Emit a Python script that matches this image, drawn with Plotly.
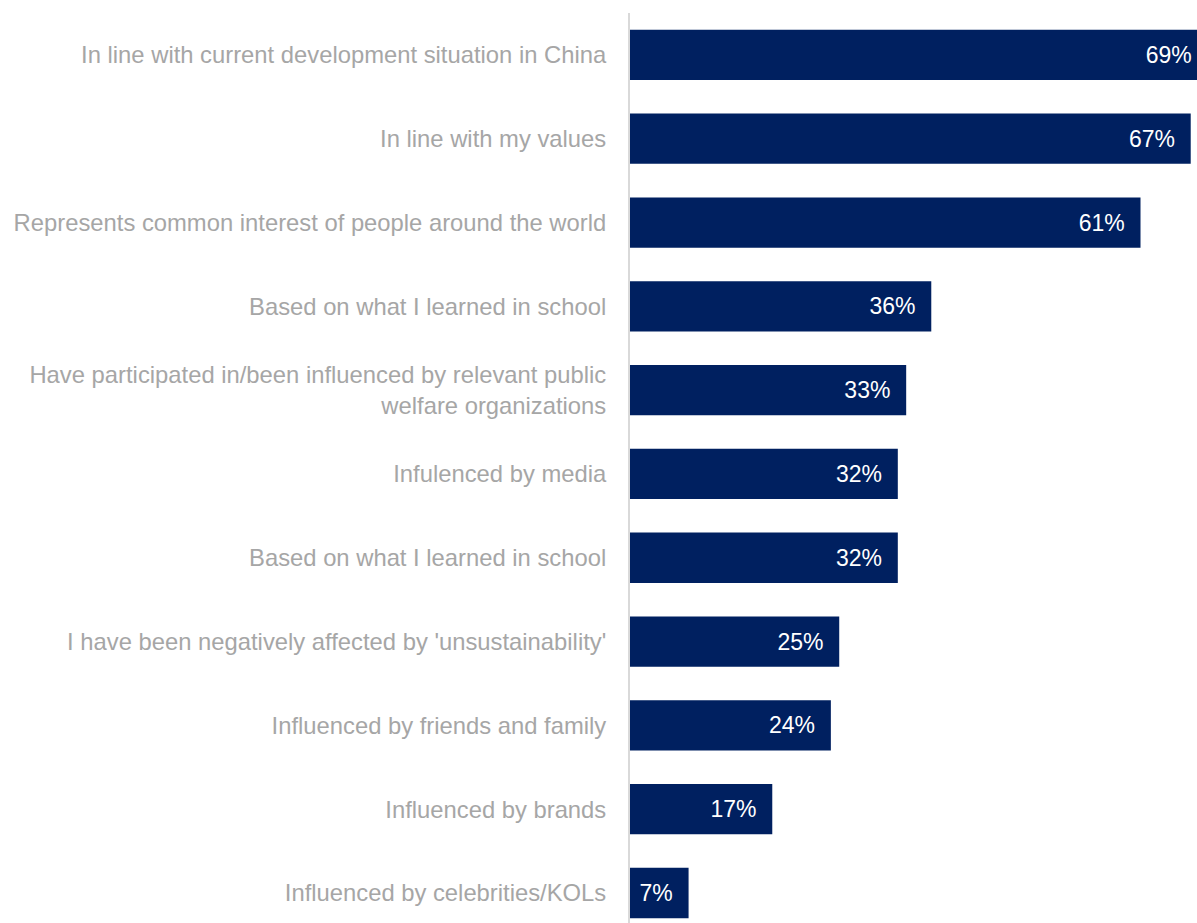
import plotly.graph_objects as go

# Reasons respondents gave, top to bottom, with share of respondents (%)
reasons = [
    "In line with current development situation in China",
    "In line with my values",
    "Represents common interest of people around the world",
    "Based on what I learned in school",
    "Have participated in/been influenced by relevant public<br>welfare organizations",
    "Infulenced by media",
    "Based on what I learned in school",
    "I have been negatively affected by 'unsustainability'",
    "Influenced by friends and family",
    "Influenced by brands",
    "Influenced by celebrities/KOLs",
]
shares = [69, 67, 61, 36, 33, 32, 32, 25, 24, 17, 7]

# numeric slots so repeated reason texts stay as separate rows
positions = list(range(len(reasons)))

NAVY = "#002060"
LABEL_GREY = "#a6a6a6"
FONT = "Liberation Sans, Arial, sans-serif"
PAD = "\u00a0\u00a0"

fig = go.Figure(
    go.Bar(
        x=shares,
        y=positions,
        orientation="h",
        marker=dict(color=NAVY, line=dict(width=0)),
        width=0.6,
        text=[f"{v}%{PAD}" for v in shares],
        textposition="inside",
        insidetextanchor="end",
        textangle=0,
        insidetextfont=dict(color="white", size=23, family=FONT),
        cliponaxis=True,
        hoverinfo="skip",
    )
)

fig.update_layout(
    width=1197,
    height=923,
    margin=dict(l=630, r=0, t=13, b=0),
    paper_bgcolor="white",
    plot_bgcolor="white",
    showlegend=False,
    font=dict(family=FONT, size=23.8, color=LABEL_GREY),
    uniformtext=dict(mode=False),
)

fig.update_xaxes(
    range=[0, 67.75],
    visible=False,
    showgrid=False,
    zeroline=False,
)

fig.update_yaxes(
    tickmode="array",
    tickvals=positions,
    ticktext=reasons,
    range=[len(reasons) - 1 + 0.358, -0.5],
    showgrid=False,
    zeroline=False,
    showline=True,
    linecolor="#d9d9d9",
    linewidth=2,
    ticks="",
    ticklabelstandoff=17,
    tickfont=dict(size=23.8, color=LABEL_GREY, family=FONT),
    automargin=False,
)

fig.write_html("out.html")
